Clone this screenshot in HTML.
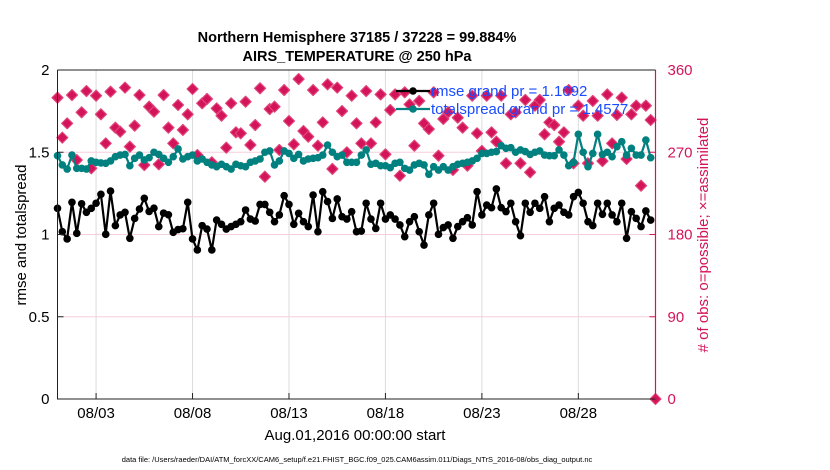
<!DOCTYPE html>
<html><head><meta charset="utf-8"><style>
body{margin:0;background:#fff;}
svg{display:block;font-family:"Liberation Sans",sans-serif;}
</style></head><body>
<svg id="chart" width="830" height="470">
<text x="357" y="42" text-anchor="middle" font-size="14.5" font-weight="bold">Northern Hemisphere 37185 / 37228 = 99.884%</text>
<text x="357" y="61" text-anchor="middle" font-size="14.5" font-weight="bold">AIRS_TEMPERATURE @ 250 hPa</text>
<g id="grid"></g>
<g id="series"></g>
<g id="axes"></g>
<text transform="translate(26,235) rotate(-90)" text-anchor="middle" font-size="15">rmse and totalspread</text>
<text transform="translate(708,235) rotate(-90)" text-anchor="middle" font-size="15" fill="#d4145a"># of obs: o=possible; ×=assimilated</text>
<text x="355" y="440" text-anchor="middle" font-size="15">Aug.01,2016 00:00:00 start</text>
<text x="357" y="462" text-anchor="middle" font-size="7.5">data file: /Users/raeder/DAI/ATM_forcXX/CAM6_setup/f.e21.FHIST_BGC.f09_025.CAM6assim.011/Diags_NTrS_2016-08/obs_diag_output.nc</text>
<g id="legend"></g>
</svg>
<script>
const xTickDays=[2,7,12,17,22,27];
const xTickLabels=["08/03","08/08","08/13","08/18","08/23","08/28"];
const yTicks=[0,0.5,1,1.5,2];
const y2Ticks=[0,90,180,270,360];
const stepDays=0.25;
const rmse=[1.159,1.017,0.973,1.196,1.007,1.187,1.135,1.159,1.19,1.244,1.001,1.264,1.054,1.119,1.135,0.977,1.098,1.155,1.22,1.14,1.16,1.048,1.13,1.12,1.013,1.03,1.035,1.196,0.973,0.906,1.054,
1.033,0.906,1.088,1.062,1.033,1.048,1.062,1.078,1.149,1.094,1.082,1.183,1.183,1.135,1.078,1.119,1.236,1.183,1.062,1.129,1.078,1.048,1.24,1.017,1.26,1.2,1.098,1.216,1.108,1.094,1.139,
1.017,1.021,1.19,1.094,1.037,1.19,1.094,1.119,1.094,1.058,0.987,1.078,1.108,1.017,0.936,1.119,1.19,1.001,1.042,1.058,0.977,1.048,1.078,1.102,1.058,1.26,1.119,1.179,1.163,1.277,1.163,
1.139,1.19,1.078,0.993,1.19,1.135,1.19,1.159,1.23,1.078,1.159,1.179,1.135,1.119,1.23,1.256,1.19,1.078,1.054,1.19,1.123,1.19,1.119,1.078,1.19,0.977,1.139,1.098,1.048,1.143,1.088];
const spread=[1.479,1.423,1.398,1.483,1.402,1.402,1.398,1.447,1.439,1.435,1.433,1.447,1.473,1.483,1.487,1.418,1.463,1.483,1.453,1.467,1.5,1.487,1.463,1.439,1.473,1.52,1.459,1.473,1.483,1.447,1.459,
1.439,1.423,1.412,1.427,1.412,1.398,1.427,1.418,1.412,1.439,1.447,1.459,1.5,1.508,1.423,1.447,1.508,1.493,1.463,1.487,1.447,1.459,1.463,1.467,1.483,1.544,1.5,1.473,1.483,1.439,1.439,
1.439,1.483,1.514,1.427,1.433,1.418,1.418,1.406,1.433,1.439,1.402,1.392,1.423,1.433,1.423,1.366,1.412,1.392,1.412,1.392,1.412,1.427,1.433,1.439,1.447,1.463,1.493,1.493,1.5,1.504,1.54,
1.524,1.528,1.5,1.514,1.504,1.487,1.5,1.508,1.483,1.479,1.479,1.514,1.483,1.418,1.439,1.609,1.5,1.412,1.493,1.609,1.487,1.5,1.473,1.534,1.564,1.483,1.524,1.483,1.483,1.574,1.467];
const obsCount=[329.7,286,301.6,332.6,261.5,313.7,337,252.4,331.9,311.5,279.7,336.3,296.9,292.5,340.7,276.1,299.1,332.6,256,319.9,314.4,256.8,332.6,296.9,279.7,321.7,294.4,311.5,339.2,267,323.5,
328.3,259,318,310,275,323.5,291.8,290.7,325.3,278,299.8,340,243.3,317.3,319.9,272.5,338.1,304.2,278.7,350.1,293.2,287,338.1,277.2,302.7,344.3,251.7,340.7,315.1,269.9,331.9,
301.6,279.7,337,279.7,302.7,333.3,267.7,316.2,333.3,244.3,335.6,322.4,277.2,326.1,301.6,295.4,335.6,266.2,306.4,313.7,250.6,307.8,296.9,255.3,331.9,290.7,271.4,331.9,291.8,281.6,
331.9,257.9,311.5,313.7,257.9,327.2,248,321,327.2,289.6,302.7,299.8,281.6,291.8,338.1,257.9,321,310,257.9,326.1,310,260.4,333.3,279.7,310.8,329.7,262.6,311.5,321,233.4,321,305.3,0];

const NS='http://www.w3.org/2000/svg';
const L=57.5,R=655.5,T=70,B=399,D0=0,D1=31;
const xs=d=>L+(d-D0)/(D1-D0)*(R-L);
const ys=v=>B-v/2*(B-T);
const ys2=v=>B-v/360*(B-T);
function mk(tag,attrs,parent){const e=document.createElementNS(NS,tag);for(const k in attrs)e.setAttribute(k,attrs[k]);parent.appendChild(e);return e;}
const grid=document.getElementById('grid'),axes=document.getElementById('axes'),ser=document.getElementById('series'),leg=document.getElementById('legend');
const CR='#d4145a';
xTickDays.forEach((d,i)=>{
 const g=mk('line',{x1:xs(d),x2:xs(d),y1:T,y2:B,stroke:'#dcdcdc','stroke-width':1},grid);
 
 
 const t=mk('line',{x1:xs(d),x2:xs(d),y1:B,y2:B-6,stroke:'#222','stroke-width':1},axes);
 
 
 const lb=mk('text',{x:xs(d),y:B+19,'text-anchor':'middle','font-size':15},axes);
 lb.textContent=xTickLabels[i];
 
 
});
yTicks.forEach(v=>{
 if(v>0&&v<2){const g=mk('line',{x1:L,x2:R,y1:ys(v),y2:ys(v),stroke:'#f6cfdc','stroke-width':1},grid);
 
 }
 const t=mk('line',{x1:L,x2:L+6,y1:ys(v),y2:ys(v),stroke:'#222'},axes);
 
 
 const lb=mk('text',{x:L-8,y:ys(v)+5,'text-anchor':'end','font-size':15},axes);
 lb.textContent=String(v);
 
 
});
y2Ticks.forEach(v=>{
 const t=mk('line',{x1:R,x2:R-6,y1:ys2(v),y2:ys2(v),stroke:CR},axes);
 
 
 const lb=mk('text',{x:R+12,y:ys2(v)+5,'font-size':15,fill:CR},axes);
 lb.textContent=String(v);
 
 
});
const la=mk('path',{d:`M${L},${T}V${B}H${R}`,fill:'none',stroke:'#222','stroke-width':1},axes);


const ra=mk('line',{x1:R,x2:R,y1:T,y2:B,stroke:CR,'stroke-width':1.2},axes);


const ta=mk('line',{x1:L,x2:R,y1:T,y2:T,stroke:'#222','stroke-width':1},axes);



function diamond(cx,cy,s){return `M${cx},${cy-s}L${cx+s},${cy}L${cx},${cy+s}L${cx-s},${cy}Z`;}
obsCount.forEach((v,i)=>{
 const p=mk('path',{d:diamond(xs(i*stepDays),ys2(v),5.5),fill:CR,stroke:'#e0457a','stroke-width':1.2,'stroke-linejoin':'round'},ser);
 
 
});
function line(data,color,name){
 const d=data.map((v,i)=>(i?'L':'M')+xs(i*stepDays).toFixed(1)+','+ys(v).toFixed(1)).join('');
 const p=mk('path',{d:d,fill:'none',stroke:color,'stroke-width':2.2},ser);
 
 
 data.forEach((v,i)=>{
  const c=mk('circle',{cx:xs(i*stepDays),cy:ys(v),r:3.8,fill:color},ser);
  
  
 });
}
line(spread,'#00807f','totalspread');
line(rmse,'#000','rmse');

[['#000','rmse grand pr = 1.1092',91,'legend-rmse'],['#00807f','totalspread grand pr = 1.4577',109,'legend-totalspread']].forEach(e=>{
 const g=mk('g',{},leg);
 
 
 mk('line',{x1:396,x2:430,y1:e[2],y2:e[2],stroke:e[0],'stroke-width':2.2},g);
 mk('circle',{cx:413,cy:e[2],r:3.8,fill:e[0]},g);
 const t=mk('text',{x:431,y:e[2]+5,'font-size':15,fill:'#1a4cff'},g);
 t.textContent=e[1];
});
</script>
</body></html>
